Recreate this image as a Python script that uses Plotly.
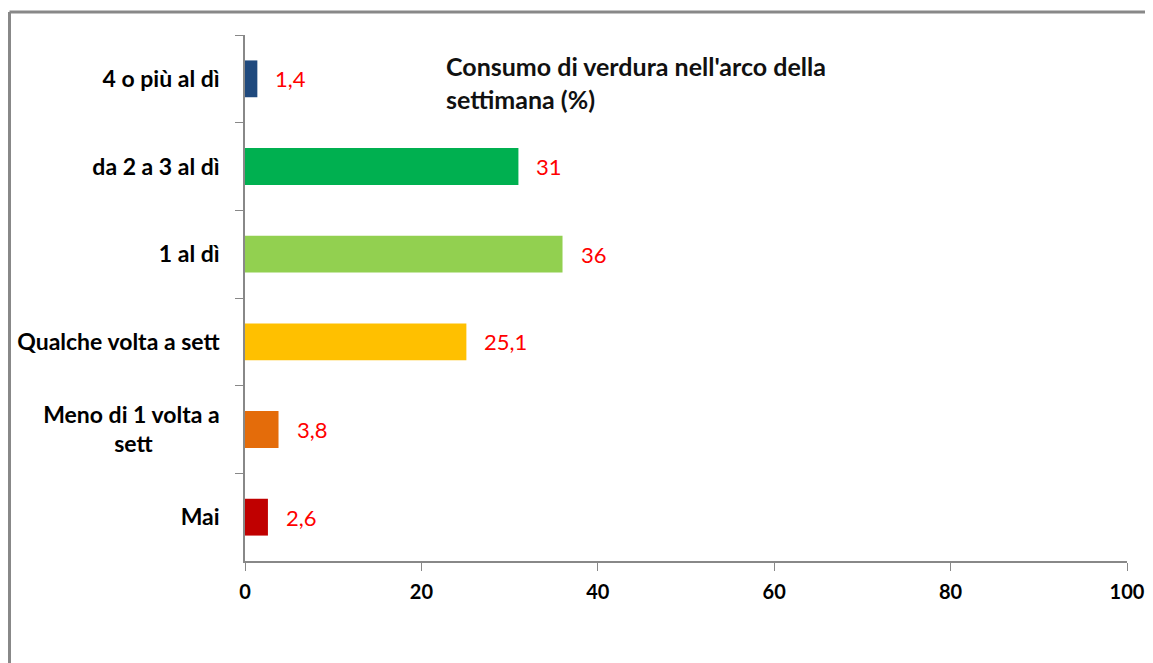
import plotly.graph_objects as go

categories = ["4 o più al dì", "da 2 a 3 al dì", "1 al dì", "Qualche volta a sett",
              "Meno di 1 volta a<br>sett", "Mai"]
values = [1.4, 31, 36, 25.1, 3.8, 2.6]
colors = ["#1F497D", "#00B050", "#92D050", "#FFC000", "#E46C0A", "#C00000"]
x_ticks = [0, 20, 40, 60, 80, 100]
title_text = "Consumo di verdura nell'arco della<br>settimana (%)"

# page is offset by the default 8px body margin
OFF = 8
W, H = 1153 - OFF, 663 - OFF
L, R, T, B = 245 - OFF, 1153 - 1127, 35 - OFF, 663 - 561
pw, ph = W - L - R, H - T - B

def px_x(p):  # page pixel -> paper
    return (p - OFF - L) / pw

def px_y(p):
    return (H - B - (p - OFF)) / ph

# center the second line of the two-line label
cat_labels = [c.replace("<br>sett", "<br>sett" + "\u00a0" * 12) for c in categories]

fig = go.Figure()
fig.add_trace(go.Bar(
    x=values, y=cat_labels, orientation="h",
    marker=dict(color=colors, line=dict(width=0)),
    hoverinfo="skip",
))

for c, v in zip(cat_labels, values):
    fig.add_annotation(x=v, y=c, xref="x", yref="y",
                       text=(f"{v:g}").replace(".", ","),
                       showarrow=False, xanchor="left", xshift=16,
                       font=dict(family="Lato, sans-serif", size=22, color="#FF0000"))

fig.add_annotation(x=px_x(444), y=px_y(49), xref="paper", yref="paper",
                   text=title_text, showarrow=False, xanchor="left", yanchor="top",
                   align="left",
                   font=dict(family="Lato, sans-serif", size=25, color="#111111", weight="bold"))

# outer border (left and top edges visible)
line_style = dict(color="#888888", width=3)
fig.add_shape(type="line", xref="paper", yref="paper",
              x0=px_x(9.5), x1=px_x(1160), y0=px_y(12), y1=px_y(12), line=line_style)
fig.add_shape(type="line", xref="paper", yref="paper",
              x0=px_x(9.5), x1=px_x(9.5), y0=px_y(12), y1=px_y(670), line=line_style)

fig.update_layout(
    width=W, height=H,
    margin=dict(l=L, r=R, t=T, b=B, autoexpand=False),
    paper_bgcolor="white", plot_bgcolor="white",
    bargap=0.58, showlegend=False,
    font=dict(family="Lato, sans-serif", size=16, color="black"),
)
fig.update_xaxes(range=[0, 100], tickvals=x_ticks, ticks="outside", ticklen=8,
                 tickcolor="#888888", showline=True, linecolor="#888888", linewidth=2,
                 showgrid=False, zeroline=False, ticklabelstandoff=4,
                 tickfont=dict(family="Lato, sans-serif", size=20, color="black", weight="bold"))
fig.update_yaxes(autorange="reversed", ticks="outside", ticklen=8, tickson="boundaries",
                 tickcolor="#888888", showline=True, linecolor="#888888", linewidth=1.5,
                 showgrid=False, ticklabelstandoff=19,
                 tickfont=dict(family="Lato, sans-serif", size=23, color="black", weight="bold"))

fig.write_html("out.html")
